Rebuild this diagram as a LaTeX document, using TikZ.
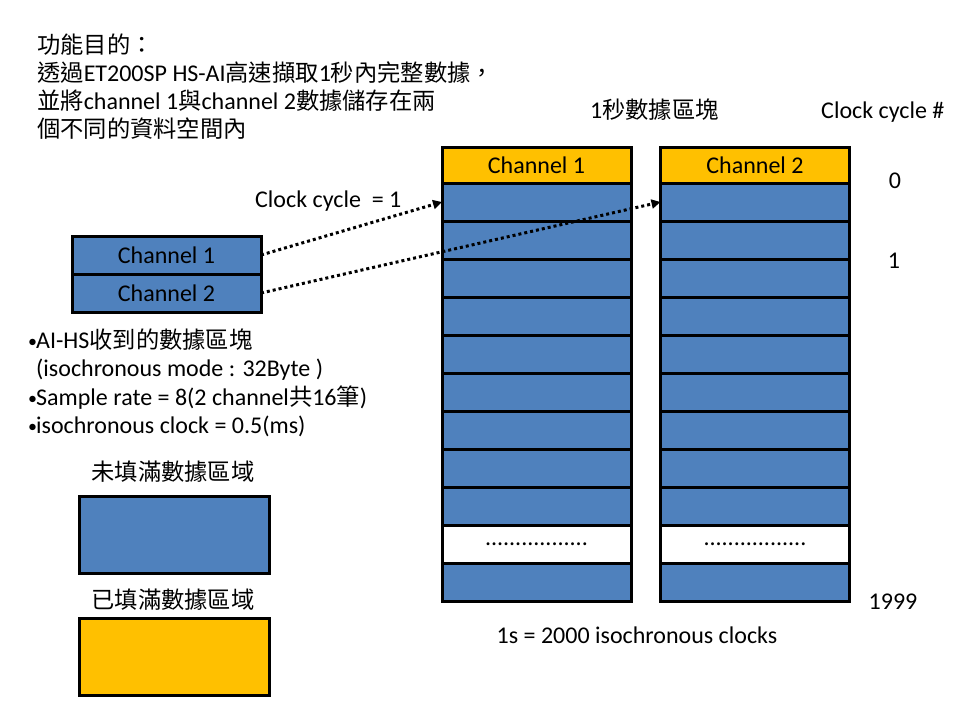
\documentclass[tikz,border=0pt]{standalone}
\usepackage{fontspec}
\setmainfont{Carlito}
\newfontfamily\cjk[Scale=0.97]{Noto Sans CJK TC}
\newcommand{\zh}[1]{{\cjk #1}}
\newcommand{\blt}{\makebox[8pt][l]{\fontsize{18}{18}\selectfont\raisebox{1pt}{•}}}
\usetikzlibrary{arrows.meta}
\definecolor{slotblue}{HTML}{4F81BD}
\definecolor{slotgold}{HTML}{FFC000}
\tikzset{slot/.style={draw,line width=3pt,fill=slotblue,minimum width=189pt,
    minimum height=38pt,inner sep=0pt,outer sep=0pt},
  headslot/.style={slot,fill=slotgold,minimum height=36pt},
  gapslot/.style={slot,fill=white},
  feed/.style={line width=3pt,dash pattern=on 3pt off 3pt,
    -{Triangle[length=9pt,width=9pt]}},
  lbl/.style={inner sep=0pt,anchor=base west},
  num/.style={inner sep=0pt,anchor=base}}

\begin{document}
\begin{tikzpicture}[x=1pt,y=-1pt,font=\fontsize{24}{28}\selectfont]
  \useasboundingbox (0,0) rectangle (960,720);

  \node[lbl] (goal1) at (37,53)  {\zh{功能目的：}};
  \node[lbl] (goal2) at (37,81)  {\zh{透過}ET200SP HS-AI\zh{高速擷取}1\zh{秒內完整數據，}};
  \node[lbl] (goal3) at (37,109) {\zh{並將}channel 1\zh{與}channel 2\zh{數據儲存在兩}};
  \node[lbl] (goal4) at (37,137) {\zh{個不同的資料空間內}};

  \node[lbl] (blocktitle) at (590,118) {1\zh{秒數據區塊}};
  \node[lbl] (cycletitle) at (821,118) {Clock cycle \#};

  \foreach \col/\cx in {1/536.5,2/755} {
    \node[headslot] (ch\col) at (\cx,165) {Channel \col};
    \foreach \r in {1,...,9,11}
      \node[slot] (ch\col-\r) at (\cx,{202+38*(\r-1)}) {};
    \node[gapslot] (ch\col-gap) at (\cx,544) {.................};
  }

  \node[num] (cyc0) at (895,188) {0};
  \node[num] (cyc1) at (894,268) {1};
  \node[num] (cyclast) at (893,609) {1999};
  \node[num] (total) at (637,643) {1s = 2000 isochronous clocks};

  \node[slot] (in1) at (166.5,255) {Channel 1};
  \node[slot] (in2) at (166.5,293) {Channel 2};
  \node[lbl] (clk) at (255,207) {Clock cycle~ = 1};

  \draw[feed] (in1.east) -- (ch1-1.west);
  \draw[feed] (in2.east) -- (ch2-1.west);

  \node[lbl] (note1) at (28,348) {\blt AI-HS\zh{收到的數據區塊}};
  \node[lbl] (note2) at (28,376) {\hspace*{8pt}(isochronous mode : 32Byte )};
  \node[lbl] (note3) at (28,405) {\blt Sample rate = 8(2 channel\zh{共}16\zh{筆})};
  \node[lbl] (note4) at (28,433) {\blt isochronous clock = 0.5(ms)};

  \node[num] (emptylbl) at (173,480) {\zh{未填滿數據區域}};
  \node[slot,minimum width=190pt,minimum height=77pt] (emptykey) at (174,534.5) {};
  \node[num] (fulllbl) at (173,608) {\zh{已填滿數據區域}};
  \node[slot,fill=slotgold,minimum width=190pt,minimum height=77pt] (fullkey) at (174,656.5) {};
\end{tikzpicture}
\end{document}
